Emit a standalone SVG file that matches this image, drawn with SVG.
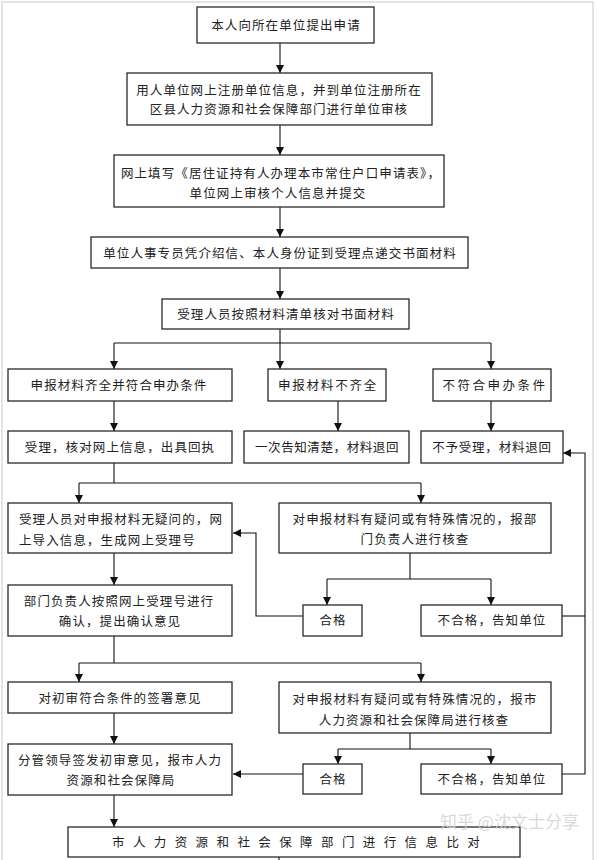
<svg xmlns="http://www.w3.org/2000/svg" width="597" height="860" viewBox="0 0 597 860">
<style>
.box{fill:#fff;stroke:#2a2a2a;stroke-width:1.3}
.t{font-family:"Noto Sans CJK SC","Noto Sans CJK JP",sans-serif;font-size:12.5px;fill:#222;letter-spacing:1.1px;text-anchor:middle}
.l{text-anchor:start}
.c{fill:none;stroke:#111;stroke-width:1.1}
.a{marker-end:url(#ah)}
</style>
<defs>
<marker id="ah" markerUnits="userSpaceOnUse" markerWidth="8" markerHeight="8" refX="8" refY="4" orient="auto" viewBox="0 0 8 8">
<path d="M0,0 L8,4 L0,8 z" fill="#111"/>
</marker>
</defs>
<rect x="0" y="0" width="597" height="860" fill="#fff"/>
<rect x="2" y="2" width="591" height="866" fill="none" stroke="#e4e4e4" stroke-width="2"/>

<g id="connectors">
<line class="c a" x1="280" y1="43" x2="280" y2="73"/>
<line class="c a" x1="280" y1="125" x2="280" y2="155"/>
<line class="c a" x1="280" y1="207" x2="280" y2="237"/>
<line class="c a" x1="280" y1="268" x2="280" y2="299"/>
<line class="c" x1="280" y1="329" x2="280" y2="343"/>
<line class="c" x1="114" y1="343" x2="491" y2="343"/>
<line class="c a" x1="114" y1="343" x2="114" y2="369"/>
<line class="c a" x1="280" y1="343" x2="280" y2="369"/>
<line class="c a" x1="491" y1="343" x2="491" y2="369"/>
<line class="c a" x1="114" y1="401" x2="114" y2="431"/>
<line class="c a" x1="338" y1="401" x2="338" y2="431"/>
<line class="c a" x1="491" y1="401" x2="491" y2="431"/>
<line class="c" x1="114" y1="463" x2="114" y2="483"/>
<line class="c" x1="79" y1="483" x2="421" y2="483"/>
<line class="c a" x1="79" y1="483" x2="79" y2="503"/>
<line class="c a" x1="421" y1="483" x2="421" y2="503"/>
<line class="c a" x1="114" y1="553" x2="114" y2="585"/>
<line class="c" x1="410" y1="553" x2="410" y2="579"/>
<line class="c" x1="327" y1="579" x2="491" y2="579"/>
<line class="c a" x1="327" y1="579" x2="327" y2="605"/>
<line class="c a" x1="491" y1="579" x2="491" y2="605"/>
<polyline class="c a" points="303,616 256,616 256,533 233,533"/>
<line class="c" x1="562" y1="616" x2="585" y2="616"/>
<polyline class="c a" points="562,774 585,774 585,453 563,453"/>
<line class="c" x1="114" y1="636" x2="114" y2="663"/>
<line class="c" x1="79" y1="663" x2="421" y2="663"/>
<line class="c a" x1="79" y1="663" x2="79" y2="682"/>
<line class="c a" x1="421" y1="663" x2="421" y2="682"/>
<line class="c a" x1="114" y1="713" x2="114" y2="744"/>
<line class="c" x1="410" y1="733" x2="410" y2="749"/>
<line class="c" x1="338" y1="749" x2="491" y2="749"/>
<line class="c a" x1="338" y1="749" x2="338" y2="764"/>
<line class="c a" x1="491" y1="749" x2="491" y2="764"/>
<line class="c a" x1="303" y1="774" x2="233" y2="774"/>
<line class="c a" x1="114" y1="795" x2="114" y2="827"/>
<line class="c" x1="279" y1="857" x2="279" y2="861"/>
</g>

<g id="n1"><rect class="box" x="197" y="7" width="177" height="36"/><text class="t" x="286" y="30">本人向所在单位提出申请</text></g>
<g id="n2"><rect class="box" x="127" y="73" width="305" height="52"/><text class="t" x="279" y="95">用人单位网上注册单位信息，并到单位注册所在</text><text class="t" x="279" y="114">区县人力资源和社会保障部门进行单位审核</text></g>
<g id="n3"><rect class="box" x="114" y="155" width="330" height="52"/><text class="t" x="281" y="178">网上填写《居住证持有人办理本市常住户口申请表》，</text><text class="t" x="278" y="198">单位网上审核个人信息并提交</text></g>
<g id="n4"><rect class="box" x="91" y="237" width="377" height="31"/><text class="t" x="280" y="258">单位人事专员凭介绍信、本人身份证到受理点递交书面材料</text></g>
<g id="n5"><rect class="box" x="162" y="299" width="247" height="30"/><text class="t" x="286" y="319">受理人员按照材料清单核对书面材料</text></g>

<g id="a1"><rect class="box" x="8" y="369" width="224" height="32"/><text class="t" x="119" y="390">申报材料齐全并符合申办条件</text></g>
<g id="a2"><rect class="box" x="268" y="369" width="118" height="32"/><text class="t" x="328" y="390" style="letter-spacing:1.8px">申报材料不齐全</text></g>
<g id="a3"><rect class="box" x="433" y="369" width="118" height="32"/><text class="t" x="495" y="390" style="letter-spacing:2.5px">不符合申办条件</text></g>

<g id="b1"><rect class="box" x="8" y="431" width="224" height="32"/><text class="t" x="120" y="452">受理，核对网上信息，出具回执</text></g>
<g id="b2"><rect class="box" x="244" y="431" width="165" height="32"/><text class="t" x="327" y="452" style="letter-spacing:0.6px">一次告知清楚，材料退回</text></g>
<g id="b3"><rect class="box" x="421" y="431" width="142" height="32"/><text class="t" x="492" y="452" style="letter-spacing:0.8px">不予受理，材料退回</text></g>

<g id="c1"><rect class="box" x="8" y="503" width="224" height="50"/><text class="t l" x="19" y="524">受理人员对申报材料无疑问的，网</text><text class="t l" x="19" y="545">上导入信息，生成网上受理号</text></g>
<g id="c2"><rect class="box" x="279" y="503" width="272" height="50"/><text class="t" x="415" y="524">对申报材料有疑问或有特殊情况的，报部</text><text class="t" x="415" y="544">门负责人进行核查</text></g>
<g id="c3"><rect class="box" x="8" y="585" width="224" height="51"/><text class="t" x="119" y="606">部门负责人按照网上受理号进行</text><text class="t" x="120" y="626">确认，提出确认意见</text></g>
<g id="p1"><rect class="box" x="303" y="605" width="59" height="31"/><text class="t" x="333" y="625">合格</text></g>
<g id="f1"><rect class="box" x="421" y="605" width="141" height="31"/><text class="t" x="492" y="625">不合格，告知单位</text></g>

<g id="e1"><rect class="box" x="8" y="682" width="224" height="31"/><text class="t" x="120" y="703">对初审符合条件的签署意见</text></g>
<g id="e2"><rect class="box" x="279" y="682" width="272" height="51"/><text class="t" x="415" y="704">对申报材料有疑问或有特殊情况的，报市</text><text class="t" x="414" y="725">人力资源和社会保障局进行核查</text></g>
<g id="e3"><rect class="box" x="8" y="744" width="224" height="51"/><text class="t" x="120" y="765">分管领导签发初审意见，报市人力</text><text class="t" x="121" y="785">资源和社会保障局</text></g>
<g id="p2"><rect class="box" x="303" y="764" width="59" height="30"/><text class="t" x="333" y="784">合格</text></g>
<g id="f2"><rect class="box" x="421" y="764" width="141" height="30"/><text class="t" x="492" y="784">不合格，告知单位</text></g>

<g id="final"><rect class="box" x="68" y="827" width="452" height="30"/><text class="t l" x="112" y="847" style="letter-spacing:8.4px">市人力资源和社会保障部门进行信息比对</text></g>

<text x="440" y="828" style="font-family:'Noto Sans CJK SC',sans-serif;font-size:17px;fill:#d2d2d2;fill-opacity:0.85">知乎 @沈文士分享</text>
</svg>
